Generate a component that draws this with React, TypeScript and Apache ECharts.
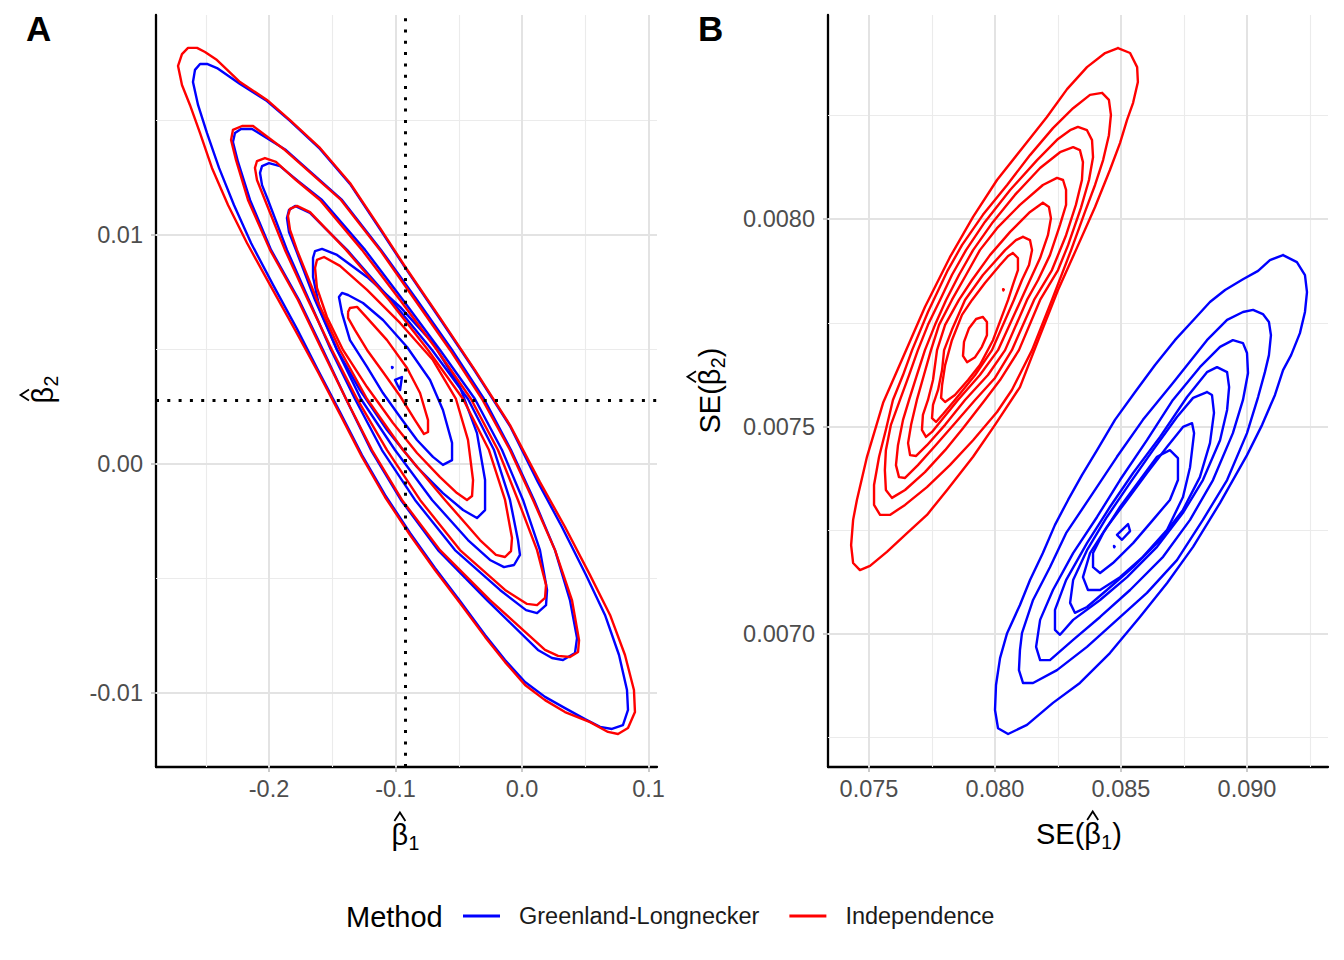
import React, { useEffect, useRef } from "react";
import * as echarts from "echarts";

type Pt = [number, number];

const FONT = "'Liberation Sans', Arial, Helvetica, sans-serif";
const BLUE = "#0000FF";
const RED = "#FF0000";

const methods = ["Greenland-Longnecker", "Independence"];

// Reference values (dotted lines in panel A)
const trueBeta1 = -0.092;
const trueBeta2 = 0.0028;

// Panel A: density contours of the estimates (beta1_hat, beta2_hat)
const glEstimateRings: Pt[][] = [
  [[-0.2601,0.01668],[-0.2585,0.01721],[-0.2545,0.01747],[-0.2490,0.01747],[-0.2411,0.01729],[-0.2229,0.01659],[-0.2016,0.01585],[-0.1834,0.01498],[-0.1597,0.01376],[-0.1360,0.01223],[-0.1123,0.01026],[-0.0917,0.00852],[-0.0648,0.00633],[-0.0372,0.00406],[-0.0095,0.00166],[0.0126,-0.00079],[0.0316,-0.00275],[0.0506,-0.00485],[0.0656,-0.00659],[0.0767,-0.00834],[0.0830,-0.00987],[0.0838,-0.01074],[0.0798,-0.01140],[0.0711,-0.01157],[0.0617,-0.01148],[0.0498,-0.01114],[0.0340,-0.01066],[0.0182,-0.01017],[0.0024,-0.00952],[-0.0134,-0.00856],[-0.0292,-0.00747],[-0.0490,-0.00598],[-0.0688,-0.00454],[-0.0885,-0.00301],[-0.1083,-0.00135],[-0.1265,0.00039],[-0.1439,0.00227],[-0.1613,0.00410],[-0.1779,0.00590],[-0.1968,0.00782],[-0.2142,0.00965],[-0.2277,0.01131],[-0.2395,0.01293],[-0.2490,0.01445],[-0.2561,0.01568]],
  [[-0.2285,0.01406],[-0.2269,0.01445],[-0.2221,0.01463],[-0.2134,0.01463],[-0.1866,0.01371],[-0.1423,0.01153],[-0.1115,0.00935],[-0.0830,0.00716],[-0.0553,0.00498],[-0.0300,0.00284],[-0.0087,0.00061],[0.0095,-0.00157],[0.0261,-0.00376],[0.0379,-0.00594],[0.0435,-0.00760],[0.0419,-0.00825],[0.0324,-0.00856],[0.0237,-0.00847],[0.0126,-0.00812],[-0.0277,-0.00594],[-0.0664,-0.00376],[-0.0957,-0.00157],[-0.1194,0.00061],[-0.1391,0.00284],[-0.1573,0.00498],[-0.1763,0.00716],[-0.1984,0.00935],[-0.2150,0.01153],[-0.2245,0.01319]],
  [[-0.2071,0.01271],[-0.2055,0.01301],[-0.2000,0.01314],[-0.1913,0.01301],[-0.1771,0.01236],[-0.1581,0.01153],[-0.1241,0.00935],[-0.0941,0.00716],[-0.0648,0.00498],[-0.0372,0.00284],[-0.0158,0.00061],[0.0008,-0.00157],[0.0142,-0.00376],[0.0198,-0.00550],[0.0190,-0.00616],[0.0119,-0.00651],[0.0032,-0.00638],[-0.0174,-0.00550],[-0.0530,-0.00376],[-0.0846,-0.00157],[-0.1107,0.00061],[-0.1320,0.00284],[-0.1510,0.00498],[-0.1684,0.00716],[-0.1858,0.00935],[-0.2008,0.01153],[-0.2055,0.01218]],
  [[-0.1858,0.01074],[-0.1842,0.01109],[-0.1794,0.01127],[-0.1676,0.01096],[-0.1549,0.01026],[-0.1383,0.00935],[-0.1036,0.00716],[-0.0711,0.00498],[-0.0427,0.00284],[-0.0221,0.00061],[-0.0095,-0.00157],[-0.0032,-0.00332],[-0.0016,-0.00397],[-0.0063,-0.00441],[-0.0142,-0.00450],[-0.0253,-0.00419],[-0.0427,-0.00332],[-0.0711,-0.00157],[-0.1004,0.00061],[-0.1273,0.00284],[-0.1462,0.00498],[-0.1636,0.00716],[-0.1787,0.00935],[-0.1842,0.01013]],
  [[-0.1652,0.00900],[-0.1636,0.00930],[-0.1581,0.00939],[-0.1462,0.00913],[-0.1225,0.00817],[-0.0964,0.00686],[-0.0704,0.00528],[-0.0490,0.00336],[-0.0356,0.00135],[-0.0292,-0.00070],[-0.0292,-0.00201],[-0.0356,-0.00236],[-0.0466,-0.00201],[-0.0625,-0.00127],[-0.0830,-0.00013],[-0.1067,0.00148],[-0.1281,0.00323],[-0.1462,0.00498],[-0.1597,0.00672],[-0.1652,0.00817]],
  [[-0.1447,0.00729],[-0.1423,0.00747],[-0.1375,0.00738],[-0.1257,0.00703],[-0.1099,0.00629],[-0.0909,0.00511],[-0.0727,0.00367],[-0.0625,0.00236],[-0.0553,0.00092],[-0.0553,0.00017],[-0.0625,-0.00004],[-0.0704,0.00031],[-0.0830,0.00105],[-0.0964,0.00205],[-0.1099,0.00310],[-0.1225,0.00424],[-0.1360,0.00541],[-0.1423,0.00659]],
  [[-0.1004,0.00367],[-0.0949,0.00380],[-0.0964,0.00323]],
  [[-0.1028,0.00424],[-0.1022,0.00422],[-0.1026,0.00419]],
];

const indEstimateRings: Pt[][] = [
  [[-0.2719,0.01738],[-0.2688,0.01790],[-0.2640,0.01817],[-0.2569,0.01817],[-0.2506,0.01799],[-0.2411,0.01764],[-0.2229,0.01668],[-0.2016,0.01590],[-0.1834,0.01502],[-0.1597,0.01380],[-0.1360,0.01227],[-0.1123,0.01031],[-0.0917,0.00856],[-0.0648,0.00638],[-0.0372,0.00410],[-0.0095,0.00170],[0.0142,-0.00079],[0.0340,-0.00275],[0.0538,-0.00485],[0.0696,-0.00659],[0.0814,-0.00834],[0.0885,-0.00987],[0.0893,-0.01083],[0.0838,-0.01153],[0.0759,-0.01179],[0.0680,-0.01170],[0.0538,-0.01127],[0.0340,-0.01083],[0.0182,-0.01031],[0.0024,-0.00965],[-0.0134,-0.00865],[-0.0292,-0.00755],[-0.0490,-0.00607],[-0.0688,-0.00463],[-0.0885,-0.00310],[-0.1083,-0.00144],[-0.1265,0.00031],[-0.1439,0.00218],[-0.1613,0.00402],[-0.1794,0.00585],[-0.1992,0.00782],[-0.2174,0.00965],[-0.2324,0.01131],[-0.2451,0.01293],[-0.2545,0.01445],[-0.2625,0.01568],[-0.2688,0.01655]],
  [[-0.2300,0.01415],[-0.2285,0.01459],[-0.2213,0.01476],[-0.2126,0.01476],[-0.1874,0.01371],[-0.1431,0.01153],[-0.1123,0.00935],[-0.0846,0.00716],[-0.0569,0.00498],[-0.0316,0.00284],[-0.0095,0.00061],[0.0087,-0.00157],[0.0261,-0.00376],[0.0395,-0.00594],[0.0451,-0.00769],[0.0443,-0.00821],[0.0379,-0.00843],[0.0285,-0.00838],[0.0182,-0.00812],[-0.0253,-0.00594],[-0.0648,-0.00376],[-0.0949,-0.00157],[-0.1186,0.00061],[-0.1391,0.00284],[-0.1581,0.00498],[-0.1771,0.00716],[-0.1992,0.00935],[-0.2166,0.01153],[-0.2261,0.01328]],
  [[-0.2111,0.01293],[-0.2095,0.01323],[-0.2032,0.01336],[-0.1945,0.01319],[-0.1787,0.01240],[-0.1597,0.01153],[-0.1265,0.00935],[-0.0964,0.00716],[-0.0672,0.00498],[-0.0403,0.00284],[-0.0190,0.00061],[-0.0032,-0.00157],[0.0119,-0.00376],[0.0190,-0.00528],[0.0182,-0.00585],[0.0119,-0.00616],[0.0040,-0.00611],[-0.0134,-0.00550],[-0.0490,-0.00376],[-0.0806,-0.00157],[-0.1067,0.00061],[-0.1304,0.00284],[-0.1502,0.00498],[-0.1692,0.00716],[-0.1874,0.00935],[-0.2032,0.01153],[-0.2095,0.01240]],
  [[-0.1850,0.01083],[-0.1834,0.01114],[-0.1779,0.01127],[-0.1676,0.01100],[-0.1557,0.01031],[-0.1391,0.00935],[-0.1051,0.00716],[-0.0743,0.00498],[-0.0466,0.00284],[-0.0261,0.00061],[-0.0134,-0.00157],[-0.0079,-0.00323],[-0.0087,-0.00380],[-0.0134,-0.00406],[-0.0206,-0.00397],[-0.0332,-0.00332],[-0.0609,-0.00157],[-0.0941,0.00061],[-0.1225,0.00284],[-0.1439,0.00498],[-0.1621,0.00716],[-0.1779,0.00935],[-0.1834,0.01022]],
  [[-0.1636,0.00856],[-0.1621,0.00891],[-0.1565,0.00904],[-0.1439,0.00865],[-0.1225,0.00760],[-0.0964,0.00616],[-0.0704,0.00454],[-0.0522,0.00284],[-0.0427,0.00105],[-0.0387,-0.00070],[-0.0395,-0.00140],[-0.0435,-0.00157],[-0.0514,-0.00127],[-0.0648,-0.00057],[-0.0830,0.00048],[-0.1020,0.00179],[-0.1225,0.00336],[-0.1415,0.00498],[-0.1542,0.00642],[-0.1621,0.00769]],
  [[-0.1375,0.00664],[-0.1360,0.00681],[-0.1304,0.00686],[-0.1225,0.00638],[-0.1067,0.00541],[-0.0909,0.00419],[-0.0806,0.00310],[-0.0743,0.00192],[-0.0743,0.00140],[-0.0775,0.00131],[-0.0846,0.00192],[-0.0964,0.00297],[-0.1099,0.00402],[-0.1225,0.00498],[-0.1320,0.00585],[-0.1375,0.00638]],
];

// Panel B: density contours of the standard errors (SE(beta1_hat), SE(beta2_hat))
const glSeRings: Pt[][] = [
  [[0.09143,0.007913],[0.09198,0.007896],[0.09230,0.007865],[0.09238,0.007824],[0.09230,0.007776],[0.09210,0.007725],[0.09175,0.007672],[0.09143,0.007636],[0.09111,0.007576],[0.09060,0.007504],[0.09000,0.007431],[0.08893,0.007316],[0.08786,0.007210],[0.08683,0.007123],[0.08575,0.007041],[0.08456,0.006954],[0.08337,0.006882],[0.08230,0.006834],[0.08127,0.006781],[0.08052,0.006759],[0.08012,0.006773],[0.08000,0.006817],[0.08004,0.006877],[0.08020,0.006942],[0.08048,0.007002],[0.08099,0.007070],[0.08139,0.007130],[0.08190,0.007195],[0.08238,0.007263],[0.08290,0.007323],[0.08345,0.007383],[0.08405,0.007443],[0.08476,0.007516],[0.08556,0.007583],[0.08635,0.007648],[0.08714,0.007708],[0.08794,0.007761],[0.08853,0.007800],[0.08913,0.007829],[0.08984,0.007855],[0.09044,0.007875],[0.09091,0.007901]],
  [[0.09024,0.007781],[0.09063,0.007771],[0.09087,0.007752],[0.09095,0.007720],[0.09087,0.007672],[0.09071,0.007631],[0.09044,0.007571],[0.09000,0.007484],[0.08921,0.007371],[0.08825,0.007275],[0.08722,0.007178],[0.08603,0.007099],[0.08484,0.007034],[0.08365,0.006969],[0.08246,0.006913],[0.08151,0.006882],[0.08111,0.006882],[0.08095,0.006913],[0.08099,0.006961],[0.08107,0.007002],[0.08151,0.007082],[0.08218,0.007161],[0.08282,0.007243],[0.08389,0.007340],[0.08484,0.007427],[0.08587,0.007516],[0.08706,0.007605],[0.08841,0.007708],[0.08921,0.007757],[0.08984,0.007776]],
  [[0.08944,0.007708],[0.08984,0.007701],[0.09000,0.007677],[0.09004,0.007629],[0.08984,0.007564],[0.08944,0.007484],[0.08865,0.007371],[0.08774,0.007275],[0.08667,0.007186],[0.08536,0.007106],[0.08417,0.007041],[0.08310,0.006986],[0.08218,0.006937],[0.08179,0.006937],[0.08163,0.006969],[0.08179,0.007034],[0.08230,0.007106],[0.08310,0.007195],[0.08405,0.007282],[0.08496,0.007371],[0.08603,0.007467],[0.08706,0.007564],[0.08813,0.007643],[0.08893,0.007692]],
  [[0.08881,0.007643],[0.08921,0.007631],[0.08929,0.007595],[0.08921,0.007540],[0.08893,0.007467],[0.08825,0.007371],[0.08746,0.007292],[0.08643,0.007210],[0.08524,0.007137],[0.08417,0.007082],[0.08310,0.007034],[0.08258,0.006998],[0.08238,0.007010],[0.08238,0.007058],[0.08282,0.007130],[0.08365,0.007219],[0.08456,0.007306],[0.08548,0.007388],[0.08655,0.007475],[0.08762,0.007571],[0.08841,0.007631]],
  [[0.08841,0.007583],[0.08861,0.007576],[0.08869,0.007533],[0.08853,0.007460],[0.08813,0.007378],[0.08746,0.007299],[0.08655,0.007227],[0.08548,0.007161],[0.08444,0.007106],[0.08365,0.007065],[0.08317,0.007051],[0.08298,0.007075],[0.08310,0.007130],[0.08365,0.007202],[0.08444,0.007282],[0.08536,0.007364],[0.08627,0.007443],[0.08722,0.007523],[0.08786,0.007569]],
  [[0.08782,0.007508],[0.08790,0.007484],[0.08774,0.007402],[0.08746,0.007330],[0.08683,0.007251],[0.08587,0.007186],[0.08496,0.007137],[0.08417,0.007106],[0.08369,0.007106],[0.08349,0.007137],[0.08377,0.007195],[0.08444,0.007258],[0.08524,0.007323],[0.08603,0.007388],[0.08683,0.007451],[0.08746,0.007499]],
  [[0.08694,0.007443],[0.08726,0.007424],[0.08726,0.007371],[0.08694,0.007323],[0.08627,0.007275],[0.08548,0.007219],[0.08468,0.007171],[0.08417,0.007147],[0.08389,0.007161],[0.08389,0.007195],[0.08429,0.007243],[0.08496,0.007306],[0.08575,0.007371],[0.08643,0.007427]],
  [[0.08484,0.007239],[0.08528,0.007265],[0.08536,0.007248],[0.08504,0.007227]],
  [[0.08472,0.007212],[0.08475,0.007211],[0.08473,0.007209]],
];

const indSeRings: Pt[][] = [
  [[0.08488,0.008412],[0.08536,0.008400],[0.08564,0.008366],[0.08567,0.008330],[0.08548,0.008280],[0.08524,0.008239],[0.08496,0.008183],[0.08456,0.008118],[0.08397,0.008029],[0.08321,0.007925],[0.08250,0.007829],[0.08179,0.007720],[0.08099,0.007595],[0.08000,0.007504],[0.07913,0.007427],[0.07810,0.007347],[0.07730,0.007287],[0.07651,0.007243],[0.07571,0.007198],[0.07504,0.007164],[0.07464,0.007154],[0.07437,0.007171],[0.07429,0.007214],[0.07437,0.007275],[0.07452,0.007323],[0.07492,0.007427],[0.07556,0.007557],[0.07635,0.007667],[0.07722,0.007788],[0.07821,0.007908],[0.07913,0.008005],[0.08008,0.008094],[0.08111,0.008173],[0.08206,0.008246],[0.08286,0.008313],[0.08365,0.008366],[0.08437,0.008400]],
  [[0.08425,0.008304],[0.08452,0.008287],[0.08460,0.008251],[0.08452,0.008202],[0.08429,0.008142],[0.08397,0.008082],[0.08357,0.008017],[0.08302,0.007925],[0.08226,0.007805],[0.08147,0.007684],[0.08067,0.007588],[0.08008,0.007535],[0.07913,0.007467],[0.07821,0.007407],[0.07730,0.007354],[0.07643,0.007311],[0.07583,0.007287],[0.07544,0.007287],[0.07520,0.007311],[0.07520,0.007359],[0.07540,0.007427],[0.07567,0.007492],[0.07595,0.007564],[0.07635,0.007624],[0.07671,0.007684],[0.07734,0.007776],[0.07813,0.007877],[0.07869,0.007937],[0.07952,0.008010],[0.08048,0.008082],[0.08139,0.008154],[0.08230,0.008219],[0.08310,0.008267],[0.08377,0.008299]],
  [[0.08329,0.008222],[0.08365,0.008214],[0.08385,0.008190],[0.08389,0.008149],[0.08373,0.008094],[0.08341,0.008027],[0.08290,0.007937],[0.08250,0.007877],[0.08179,0.007805],[0.08095,0.007684],[0.08020,0.007612],[0.07960,0.007564],[0.07873,0.007496],[0.07802,0.007443],[0.07722,0.007390],[0.07643,0.007347],[0.07591,0.007328],[0.07567,0.007347],[0.07563,0.007395],[0.07567,0.007443],[0.07587,0.007504],[0.07623,0.007564],[0.07659,0.007624],[0.07694,0.007684],[0.07734,0.007745],[0.07782,0.007805],[0.07829,0.007865],[0.07885,0.007925],[0.07960,0.007993],[0.08060,0.008070],[0.08167,0.008142],[0.08250,0.008193],[0.08298,0.008214]],
  [[0.08310,0.008173],[0.08337,0.008166],[0.08349,0.008137],[0.08345,0.008094],[0.08321,0.008034],[0.08282,0.007961],[0.08226,0.007877],[0.08155,0.007805],[0.08067,0.007684],[0.08000,0.007617],[0.07921,0.007564],[0.07841,0.007508],[0.07762,0.007453],[0.07694,0.007407],[0.07643,0.007376],[0.07619,0.007378],[0.07607,0.007407],[0.07615,0.007455],[0.07635,0.007516],[0.07659,0.007564],[0.07690,0.007624],[0.07722,0.007684],[0.07762,0.007745],[0.07806,0.007805],[0.07857,0.007865],[0.07913,0.007925],[0.07992,0.007993],[0.08079,0.008058],[0.08179,0.008123],[0.08258,0.008161]],
  [[0.08246,0.008099],[0.08270,0.008094],[0.08282,0.008070],[0.08282,0.008034],[0.08258,0.007986],[0.08218,0.007913],[0.08171,0.007853],[0.08127,0.007805],[0.08040,0.007684],[0.07972,0.007624],[0.07881,0.007564],[0.07802,0.007504],[0.07730,0.007455],[0.07687,0.007429],[0.07663,0.007431],[0.07655,0.007460],[0.07667,0.007504],[0.07690,0.007564],[0.07718,0.007624],[0.07746,0.007684],[0.07778,0.007745],[0.07829,0.007805],[0.07885,0.007865],[0.07940,0.007925],[0.08008,0.007978],[0.08099,0.008034],[0.08190,0.008082]],
  [[0.08190,0.008039],[0.08214,0.008029],[0.08222,0.008002],[0.08210,0.007961],[0.08179,0.007906],[0.08139,0.007853],[0.08103,0.007805],[0.08012,0.007684],[0.07940,0.007624],[0.07853,0.007564],[0.07794,0.007520],[0.07750,0.007487],[0.07726,0.007475],[0.07710,0.007492],[0.07714,0.007528],[0.07734,0.007564],[0.07754,0.007612],[0.07770,0.007684],[0.07802,0.007745],[0.07857,0.007805],[0.07909,0.007853],[0.07980,0.007913],[0.08060,0.007969],[0.08139,0.008017]],
  [[0.08111,0.007957],[0.08139,0.007949],[0.08147,0.007925],[0.08135,0.007889],[0.08107,0.007853],[0.08075,0.007805],[0.07988,0.007684],[0.07921,0.007624],[0.07841,0.007564],[0.07794,0.007530],[0.07766,0.007511],[0.07750,0.007520],[0.07754,0.007552],[0.07774,0.007588],[0.07790,0.007636],[0.07798,0.007684],[0.07829,0.007733],[0.07881,0.007805],[0.07952,0.007865],[0.08040,0.007925],[0.08083,0.007949]],
  [[0.08071,0.007918],[0.08091,0.007906],[0.08091,0.007877],[0.08071,0.007841],[0.08052,0.007805],[0.07992,0.007708],[0.07940,0.007648],[0.07893,0.007612],[0.07841,0.007576],[0.07802,0.007559],[0.07786,0.007569],[0.07790,0.007600],[0.07802,0.007648],[0.07829,0.007708],[0.07869,0.007769],[0.07909,0.007805],[0.07960,0.007846],[0.08020,0.007889],[0.08052,0.007911]],
  [[0.07952,0.007764],[0.07968,0.007752],[0.07968,0.007720],[0.07948,0.007692],[0.07921,0.007667],[0.07889,0.007655],[0.07873,0.007670],[0.07877,0.007704],[0.07897,0.007737],[0.07925,0.007759]],
  [[0.08032,0.007831],[0.08035,0.007830],[0.08033,0.007828]],
];

// Axis ranges, ticks and minor grid positions
const estXRange: Pt = [-0.28933, 0.10672];
const estYRange: Pt = [-0.013231, 0.019607];
const estXTicks = [-0.2, -0.1, 0, 0.1];
const estYTicks = [-0.01, 0, 0.01];
const estXMinor = [-0.25, -0.15, -0.05, 0.05];
const estYMinor = [-0.005, 0.005, 0.015];

const seXRange: Pt = [0.073373, 0.093214];
const seYRange: Pt = [0.0066795, 0.0084916];
const seXTicks = [0.075, 0.08, 0.085, 0.09];
const seYTicks = [0.007, 0.0075, 0.008];
const seXMinor = [0.0775, 0.0825, 0.0875, 0.0925];
const seYMinor = [0.00675, 0.00725, 0.00775, 0.00825];

const close = (ring: Pt[]): Pt[] => [...ring, ring[0]];

function valueAxis(
  gridIndex: number,
  range: Pt,
  ticks: number[],
  digits: number,
  margin: number
): any {
  return {
    type: "value",
    gridIndex,
    min: range[0],
    max: range[1],
    splitLine: { show: false },
    axisLine: { show: true, onZero: false, lineStyle: { color: "#000", width: 2.3 } },
    axisTick: {
      show: true,
      customValues: ticks,
      length: 5,
      lineStyle: { color: "#BDBDBD", width: 1.6 },
    },
    axisLabel: {
      show: true,
      customValues: ticks,
      formatter: (v: number) => (Math.abs(v) < 1e-12 ? 0 : v).toFixed(digits),
      color: "#4D4D4D",
      fontSize: 23.5,
      fontFamily: FONT,
      margin,
    },
  };
}

function gridSeries(axis: number, xs: number[], ys: number[], width: number, color: string): any {
  return {
    type: "line",
    xAxisIndex: axis,
    yAxisIndex: axis,
    data: [],
    silent: true,
    z: 1,
    markLine: {
      silent: true,
      symbol: "none",
      precision: 10,
      z: 1,
      label: { show: false },
      lineStyle: { color, width, type: "solid" },
      data: [...xs.map((v) => ({ xAxis: v })), ...ys.map((v) => ({ yAxis: v }))],
    },
  };
}

function ringSeries(rings: Pt[][], name: string, color: string, axis: number, z: number): any[] {
  return rings.map((ring) => ({
    type: "line",
    name,
    xAxisIndex: axis,
    yAxisIndex: axis,
    data: close(ring),
    symbol: "none",
    showSymbol: false,
    smooth: false,
    silent: true,
    z,
    lineStyle: { color, width: 2.4, join: "round", cap: "round" },
    itemStyle: { color },
  }));
}

// Axis title of the form  prefix + beta-hat + subscript + suffix, laid out from its left end
function hatTitle(x: number, y: number, prefix: string, sub: string, suffix: string, rotation: number): any {
  const base = { fontFamily: FONT, fill: "#000" };
  const prefixWidth = prefix ? 48.3 : 0;
  const betaCenter = prefixWidth + 8.4;
  const subLeft = betaCenter + 8.6;
  const suffixLeft = subLeft + 11;
  const children: any[] = [];
  if (prefix) {
    children.push({ type: "text", x: 0, y: 0, style: { ...base, text: prefix, fontSize: 29, align: "left", verticalAlign: "middle" } });
  }
  children.push({ type: "text", x: betaCenter, y: 0, style: { ...base, text: "\u03B2", fontSize: 29, align: "center", verticalAlign: "middle" } });
  children.push({
    type: "polyline",
    shape: { points: [[betaCenter - 5.5, -14], [betaCenter, -22.5], [betaCenter + 5.5, -14]] },
    style: { stroke: "#000", lineWidth: 1.8, fill: null },
  });
  children.push({ type: "text", x: subLeft, y: 8, style: { ...base, text: sub, fontSize: 19.5, align: "left", verticalAlign: "middle" } });
  if (suffix) {
    children.push({ type: "text", x: suffixLeft, y: 0, style: { ...base, text: suffix, fontSize: 29, align: "left", verticalAlign: "middle" } });
  }
  return { type: "group", x, y, rotation, children };
}

export default function App() {
  const ref = useRef<HTMLDivElement>(null);

  useEffect(() => {
    if (!ref.current) return;
    const chart = echarts.init(ref.current, null, { renderer: "svg" });

    const textStyle = (extra: any) => ({
      fontFamily: FONT,
      fill: "#000",
      ...extra,
    });

    const option: any = {
      animation: false,
      backgroundColor: "#fff",
      grid: [
        { left: 156, top: 15, width: 501, height: 752 },
        { left: 828, top: 15, width: 500, height: 752 },
      ],
      xAxis: [
        valueAxis(0, estXRange, estXTicks, 1, 10),
        valueAxis(1, seXRange, seXTicks, 3, 10),
      ],
      yAxis: [
        valueAxis(0, estYRange, estYTicks, 2, 13),
        valueAxis(1, seYRange, seYTicks, 4, 13),
      ],
      legend: {
        data: methods,
        left: 463,
        top: 904,
        padding: 0,
        icon: "rect",
        itemWidth: 37,
        itemHeight: 3,
        itemGap: 30,
        selectedMode: false,
        textStyle: {
          fontSize: 23.5,
          fontFamily: FONT,
          color: "#1A1A1A",
          padding: [0, 0, 0, 14],
        },
      },
      graphic: [
        { type: "text", x: 26, y: 28, style: textStyle({ text: "A", fontSize: 35, fontWeight: "bold", align: "left", verticalAlign: "middle" }) },
        { type: "text", x: 698, y: 28, style: textStyle({ text: "B", fontSize: 35, fontWeight: "bold", align: "left", verticalAlign: "middle" }) },
        hatTitle(391.5, 835, "", "1", "", 0),
        hatTitle(43, 403.5, "", "2", "", Math.PI / 2),
        hatTitle(1036, 834, "SE(", "1", ")", 0),
        hatTitle(710, 433.5, "SE(", "2", ")", Math.PI / 2),
        { type: "text", x: 346, y: 917, style: textStyle({ text: "Method", fontSize: 29, align: "left", verticalAlign: "middle" }) },
      ],
      series: [
        gridSeries(0, estXMinor, estYMinor, 1.1, "#EBEBEB"),
        gridSeries(0, estXTicks, estYTicks, 2, "#E3E3E3"),
        gridSeries(1, seXMinor, seYMinor, 1.1, "#EBEBEB"),
        gridSeries(1, seXTicks, seYTicks, 2, "#E3E3E3"),
        ...ringSeries(glEstimateRings, methods[0], BLUE, 0, 3),
        ...ringSeries(indEstimateRings, methods[1], RED, 0, 4),
        ...ringSeries(glSeRings, methods[0], BLUE, 1, 3),
        ...ringSeries(indSeRings, methods[1], RED, 1, 4),
        {
          type: "line",
          xAxisIndex: 0,
          yAxisIndex: 0,
          data: [],
          silent: true,
          z: 6,
          markLine: {
            silent: true,
            symbol: "none",
            precision: 10,
            z: 6,
            label: { show: false },
            lineStyle: { color: "#000", width: 3, type: [3, 8.3], cap: "butt" },
            data: [{ xAxis: trueBeta1 }, { yAxis: trueBeta2 }],
          },
        },
      ],
    };

    chart.setOption(option);
    return () => chart.dispose();
  }, []);

  return (
    <div
      ref={ref}
      style={{ position: "absolute", left: 0, top: 0, width: 1344, height: 960 }}
    />
  );
}
